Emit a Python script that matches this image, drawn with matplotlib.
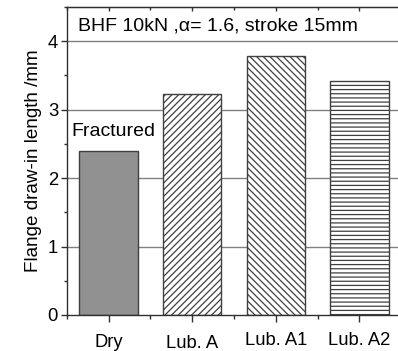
import matplotlib
matplotlib.use("Agg")
from matplotlib import pyplot as plt
from matplotlib.ticker import FixedLocator, MultipleLocator
from matplotlib.transforms import ScaledTranslation

plt.rcParams['font.family'] = ['Liberation Sans', 'DejaVu Sans']
plt.rcParams['hatch.color'] = '#202020'
plt.rcParams['hatch.linewidth'] = 0.9

# Data
lubricants = ["Dry", "Lub. A", "Lub. A1", "Lub. A2"]
draw_in = [2.39, 3.23, 3.78, 3.42]
hatches = [None, "/////", "\\\\\\\\\\", "----"]
fills = ["#919191", "white", "white", "white"]

fig = plt.figure(figsize=(3.98, 3.51), dpi=100)
ax = fig.add_axes([0.168, 0.1026, 0.84, 0.8774])

# grid lines behind the bars
for g in [1, 2, 3, 4]:
    ax.axhline(g, color="#808080", lw=1.0, zorder=0)

x = list(range(1, len(lubricants) + 1))
for xi, h, hatch, fc in zip(x, draw_in, hatches, fills):
    ax.bar(xi, h, width=0.7, color=fc, edgecolor="#404040", lw=1.0,
           hatch=hatch, zorder=2)

ax.text(x[0] + 0.06, draw_in[0] + 0.17, "Fractured", ha="center", va="bottom",
        fontsize=14)
ax.text(0.63, 4.22, "BHF 10kN ,\u03b1= 1.6, stroke 15mm", ha="left",
        va="center", fontsize=14)

ax.set_xlim(0.5, 4.5)
ax.set_ylim(0, 4.5)
ax.set_xticks(x)
ax.set_xticklabels(lubricants, fontsize=13.2)
ax.xaxis.set_minor_locator(FixedLocator([0.5, 1.5, 2.5, 3.5, 4.5]))
ax.set_yticks([0, 1, 2, 3, 4])
ax.yaxis.set_minor_locator(MultipleLocator(0.5))
ax.tick_params(axis="y", labelsize=13.3)
ax.set_ylabel("Flange draw-in length /mm", fontsize=13.6, labelpad=4)

# tick lengths in points (1 pt = 1.39 px here)
ax.tick_params(axis="x", which="major", direction="out", length=5, width=1,
               pad=7.3, color="#303030")
ax.tick_params(axis="x", which="minor", direction="out", length=3, width=1,
               color="#303030")
ax.tick_params(axis="y", which="major", direction="out", length=4.3, width=1,
               pad=2, color="#303030")
ax.tick_params(axis="y", which="minor", direction="out", length=2.2, width=1,
               color="#303030")

# labels sit a little staggered
offsets = [-1.4, -2.0, 0, 0]
for lbl, dy in zip(ax.get_xticklabels(), offsets):
    lbl.set_transform(lbl.get_transform() + ScaledTranslation(0, dy / 72, fig.dpi_scale_trans))

# inward ticks on the top frame, short ones on the right
top = ax.secondary_xaxis("top")
top.set_xticks(x)
top.xaxis.set_minor_locator(FixedLocator([0.5, 1.5, 2.5, 3.5, 4.5]))
top.tick_params(which="major", direction="in", length=3, width=1, labeltop=False, color="#303030")
top.tick_params(which="minor", direction="in", length=2, width=1, color="#303030")
right = ax.secondary_yaxis("right")
right.set_yticks([0, 1, 2, 3, 4])
right.tick_params(direction="out", length=3, width=1, labelright=False)

for s in ax.spines.values():
    s.set_color("#303030")
    s.set_linewidth(1.0)
top.spines["top"].set_color("#303030")

fig.savefig("out.png", dpi=100)
